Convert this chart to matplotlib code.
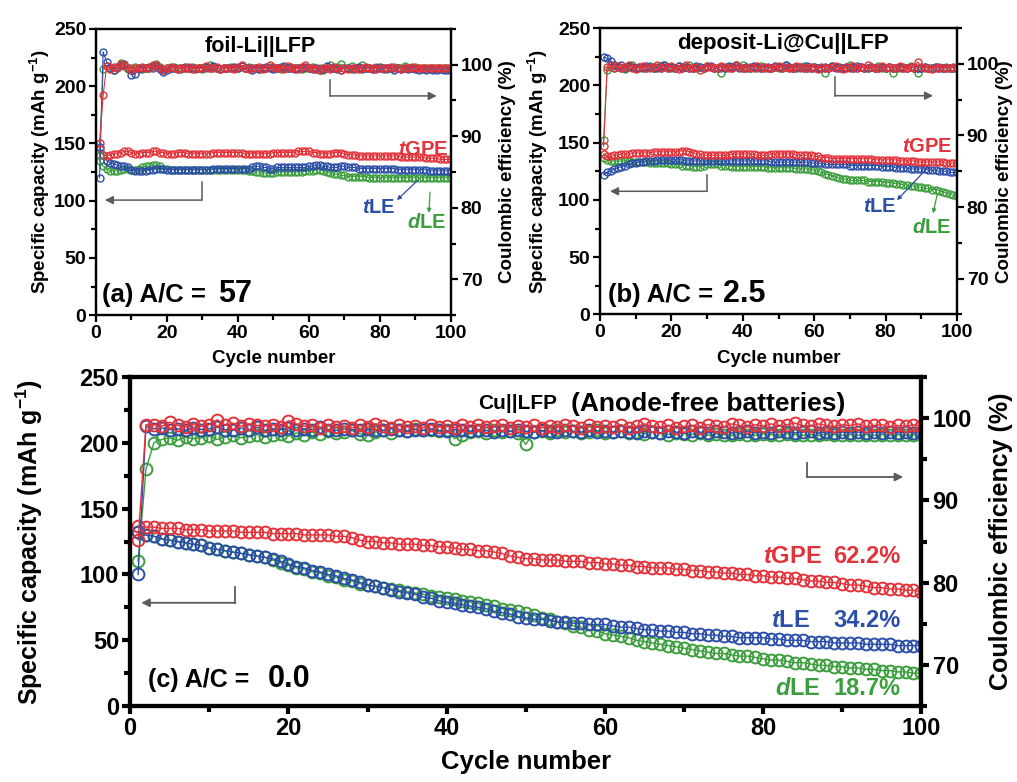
import numpy as np
import matplotlib
matplotlib.use('Agg')
import matplotlib.pyplot as plt
from matplotlib.ticker import MultipleLocator

plt.rcParams['font.family'] = ['Liberation Sans', 'DejaVu Sans']
plt.rcParams['font.weight'] = 'bold'
plt.rcParams['axes.labelweight'] = 'bold'
plt.rcParams['mathtext.fontset'] = 'custom'
plt.rcParams['mathtext.rm'] = 'Liberation Sans:bold'
plt.rcParams['mathtext.it'] = 'Liberation Sans:italic:bold'
plt.rcParams['mathtext.bf'] = 'Liberation Sans:bold'
plt.rcParams['mathtext.default'] = 'regular'

RED = '#e4323a'
BLUE = '#2b4ea8'
GREEN = '#3b9e3c'
GRAY = '#5a5a5a'

cycles = np.arange(1, 101)

# ---- (a) foil-Li||LFP : specific capacity (mAh/g)
cap_tgpe_a = [145,140,139,140,141,141,142,143,143,142,
              141,141,142,142,142,143,143,142,142,141,
              141,141,142,142,142,141,141,141,141,141,
              141,141,142,142,142,142,142,142,142,142,
              142,141,141,141,141,141,141,141,141,142,
              142,142,142,142,142,142,143,143,143,143,
              142,142,141,141,141,141,142,142,142,141,
              140,140,140,139,139,139,139,139,139,139,
              139,139,139,139,139,138,138,138,138,138,
              138,138,137,137,137,137,136,136,136,136]
cap_tle_a = [147,140,135,133,132,131,130,130,129,127,
             126,126,126,126,127,127,128,128,128,127,
             127,127,127,127,127,127,127,127,127,127,
             127,127,128,128,128,128,128,128,128,128,
             128,128,128,129,130,130,129,129,128,128,
             129,129,129,129,129,129,129,129,129,130,
             130,131,131,130,130,129,129,129,130,130,
             129,129,129,128,128,128,128,128,128,128,
             128,128,128,128,127,127,127,127,127,127,
             127,127,127,126,126,126,126,126,126,126]
cap_dle_a = [135,130,128,126,126,126,127,128,128,127,
             127,128,129,130,130,131,131,130,128,128,
             127,127,127,127,127,127,127,127,127,127,
             127,127,127,127,127,127,127,127,127,127,
             127,127,126,126,125,125,124,124,124,124,
             125,125,125,125,125,125,125,125,126,126,
             126,127,127,126,125,124,123,123,122,122,
             121,121,121,121,121,121,120,120,120,120,
             120,120,120,120,120,120,120,120,120,120,
             120,120,120,120,120,120,120,120,120,120]
# (a) coulombic efficiency (%)
ce_tgpe_a = [89.0,95.7,99.8,99.4,99.7,99.5,100.1,99.9,99.6,99.3,
             99.6,99.5,99.7,99.5,99.6,99.9,100.0,99.6,99.2,99.5,
             99.7,99.5,99.4,99.6,99.5,99.7,99.4,99.5,99.6,99.5,
             99.8,99.6,99.5,99.7,99.4,99.6,99.5,99.6,99.4,99.7,
             99.9,99.6,99.4,99.6,99.5,99.7,99.4,99.6,99.9,99.7,
             99.5,99.6,99.4,99.8,99.5,99.6,99.4,99.7,99.9,99.5,
             99.6,99.4,99.3,99.5,99.6,99.4,99.7,99.5,99.3,99.6,
             99.4,99.5,99.6,99.4,99.5,99.7,99.5,99.6,99.4,99.5,
             99.6,99.5,99.7,99.5,99.6,99.4,99.6,99.5,99.7,99.6,
             99.5,99.6,99.5,99.6,99.5,99.6,99.5,99.6,99.5,99.6]
ce_tle_a = [84.2,101.8,100.4,99.6,99.3,99.7,99.9,100.1,99.5,98.6,
            98.7,99.4,99.6,99.5,99.7,99.6,99.8,99.4,99.0,99.2,
            99.5,99.6,99.4,99.5,99.7,99.5,99.6,99.4,99.5,99.6,
            99.7,99.5,99.8,99.6,99.4,99.5,99.6,99.5,99.7,99.6,
            99.8,99.6,99.5,99.3,99.6,99.4,99.5,99.7,99.6,99.4,
            99.5,99.7,99.8,99.5,99.6,99.4,99.6,99.5,99.7,99.6,
            99.4,99.5,99.2,99.4,99.8,99.5,99.6,99.4,99.3,99.5,
            99.6,99.4,99.5,99.7,99.4,99.5,99.6,99.4,99.5,99.7,
            99.4,99.5,99.6,99.3,99.5,99.4,99.6,99.4,99.5,99.4,
            99.3,99.4,99.3,99.4,99.3,99.3,99.4,99.3,99.3,99.3]
ce_dle_a = [87.4,99.4,99.8,99.5,99.3,99.6,100.3,99.8,99.4,99.5,
            99.7,99.6,99.4,99.6,99.5,99.8,100.1,99.7,99.3,99.6,
            99.5,99.7,99.5,99.4,99.6,99.5,99.7,99.5,99.6,99.4,
            99.6,99.9,99.7,99.5,99.4,99.6,99.5,99.7,99.5,99.6,
            99.8,99.5,99.7,99.5,99.6,99.4,99.6,99.5,99.7,99.5,
            99.6,99.4,99.6,99.5,99.7,99.5,99.6,99.4,99.6,99.5,
            99.7,99.4,99.5,99.3,99.6,99.9,99.5,99.7,100.1,99.6,
            99.5,99.8,99.4,99.6,99.9,99.5,99.6,99.4,99.7,99.5,
            99.6,99.4,99.5,99.7,99.5,99.6,99.8,99.5,99.6,99.7,
            99.5,99.6,99.5,99.6,99.5,99.6,99.5,99.6,99.5,99.5]

# ---- (b) deposit-Li@Cu||LFP
cap_tgpe_b = [140,138,138,139,139,140,140,140,141,141,
              141,141,141,141,142,142,142,142,142,142,
              142,142,143,143,142,141,140,140,139,139,
              139,139,139,139,139,139,140,140,140,140,
              140,140,140,139,139,139,139,140,140,140,
              140,140,140,140,139,139,139,139,139,138,
              138,137,137,137,136,136,136,136,136,136,
              136,136,136,136,136,136,135,135,135,135,
              135,135,135,134,134,134,134,134,133,133,
              133,133,133,133,133,133,132,132,132,132]
cap_tle_b = [122,124,125,127,128,129,130,131,132,132,
             133,133,134,134,134,135,135,135,135,135,
             135,135,135,134,134,134,134,134,134,134,
             134,134,134,134,134,134,134,134,134,134,
             134,134,134,134,134,134,134,133,133,133,
             133,133,133,133,133,133,133,133,132,132,
             132,132,131,131,131,131,131,131,131,130,
             130,130,130,130,130,130,130,130,129,129,
             129,129,128,128,128,128,127,127,127,127,
             127,126,126,126,125,125,125,124,124,124]
cap_dle_b = [137,135,134,134,134,134,134,134,133,133,
             133,133,133,132,132,132,132,132,132,131,
             131,131,130,130,130,129,129,129,130,131,
             131,131,131,130,130,130,129,129,129,129,
             129,129,129,129,129,129,128,128,128,128,
             128,128,128,128,127,127,127,127,126,126,
             125,124,123,122,121,120,119,118,118,117,
             117,117,117,117,116,116,116,116,116,115,
             115,115,114,114,113,113,112,112,111,111,
             110,110,109,109,108,107,106,105,104,103]
ce_tgpe_b = [88.5,99.6,99.8,99.5,99.7,99.4,99.6,99.9,99.5,99.3,
             99.6,99.7,99.5,99.4,99.6,99.8,99.5,99.6,99.4,99.7,
             99.5,99.3,99.6,99.8,99.5,99.4,99.6,99.2,99.5,99.7,
             99.6,99.4,99.5,99.7,99.6,99.4,99.5,99.8,99.6,99.5,
             99.4,99.6,99.5,99.7,99.4,99.6,99.5,99.4,99.6,99.7,
             99.5,99.6,99.4,99.5,99.7,99.6,99.5,99.4,99.6,99.5,
             99.3,99.6,99.5,99.4,99.6,99.7,99.5,99.3,99.6,99.5,
             99.7,99.4,99.6,99.5,99.8,99.6,99.4,99.5,99.7,99.5,
             99.6,99.4,99.5,99.7,99.5,99.4,99.6,99.5,100.3,99.6,
             99.4,99.5,99.3,99.5,99.6,99.4,99.5,99.5,99.6,99.5]
ce_tle_b = [100.9,100.8,100.4,99.8,99.6,99.9,99.5,99.7,99.6,99.4,
            99.6,99.5,99.7,99.6,99.4,99.5,99.7,99.8,99.5,99.6,
            99.4,99.7,99.5,99.6,99.4,99.5,99.7,99.6,99.5,99.6,
            99.7,99.5,99.4,99.6,99.5,99.7,99.6,99.9,99.5,99.4,
            99.6,99.5,99.7,99.6,99.4,99.5,99.6,99.5,99.7,99.6,
            99.5,99.8,99.6,99.4,99.5,99.6,99.5,99.7,99.5,99.6,
            99.4,99.5,99.6,99.4,99.7,99.5,99.6,99.5,99.4,99.6,
            99.5,99.7,99.6,99.4,99.5,99.6,99.5,99.4,99.6,99.5,
            99.6,99.4,99.5,99.6,99.5,99.4,99.6,99.5,99.4,99.5,
            99.6,99.4,99.5,99.6,99.4,99.5,99.4,99.5,99.5,99.4]
ce_dle_b = [89.3,99.2,99.6,99.4,99.7,99.5,99.3,99.6,99.8,99.5,
            99.4,99.6,99.5,99.7,99.4,99.6,99.5,99.8,99.6,99.4,
            99.5,99.7,99.4,99.6,99.8,99.5,99.4,99.6,99.5,99.7,
            99.6,99.4,99.5,98.8,99.4,99.6,99.5,99.7,99.6,99.9,
            99.5,99.4,99.6,99.5,99.7,99.6,99.4,99.5,99.6,99.4,
            99.6,99.8,99.5,99.4,99.6,99.5,99.7,99.5,99.4,99.6,
            99.5,99.4,98.8,99.5,99.7,99.6,99.4,99.5,99.6,99.8,
            99.5,99.4,99.6,99.5,99.4,99.6,99.5,99.7,99.4,99.5,
            99.6,98.8,99.5,99.4,99.6,99.5,99.7,99.4,98.7,99.5,
            99.6,99.4,99.5,99.6,99.4,99.5,99.6,99.4,99.5,99.5]

# ---- (c) Cu||LFP anode-free
cap_tgpe_c = [137,136,136,135,135,135,134,134,134,133,
              133,133,133,132,132,132,132,131,131,131,
              131,130,130,130,130,129,129,128,126,125,
              125,124,124,123,123,123,122,122,121,121,
              120,119,119,118,118,117,116,114,113,112,
              112,111,111,111,110,110,110,109,109,108,
              108,107,107,106,106,105,105,105,104,104,
              103,103,102,102,101,101,100,100,99,99,
              98,98,97,97,96,95,95,94,94,93,
              92,92,91,90,90,89,89,88,88,87]
cap_tle_c = [132,130,129,127,126,125,124,123,122,120,
             119,118,117,116,115,114,113,112,110,108,
             106,105,103,102,100,99,97,96,94,92,
             91,90,88,87,86,85,83,82,80,79,
             78,77,76,75,74,72,71,70,68,67,
             66,66,65,64,64,63,63,62,62,62,
             61,60,60,59,58,58,57,57,56,56,
             55,55,54,54,53,53,52,52,52,52,
             51,51,50,50,50,49,49,49,48,48,
             48,48,47,47,47,47,46,46,46,46]
cap_dle_c = [132,130,129,127,126,125,124,123,122,120,
             119,118,117,116,115,114,113,111,109,107,
             105,104,102,101,99,98,96,95,93,92,
             91,90,89,88,87,86,85,84,83,82,
             81,80,79,78,77,76,74,73,72,71,
             69,67,66,64,63,61,60,58,57,55,
             54,53,52,50,49,48,47,46,45,44,
             43,42,41,40,40,39,38,38,37,36,
             35,35,34,33,33,32,31,31,30,30,
             29,29,28,28,27,27,26,26,25,25]
ce_tgpe_c = [85.2,99.2,99.2,99.0,99.5,99.1,98.9,99.3,99.0,99.2,
             99.8,99.1,99.4,99.0,99.3,99.1,99.0,99.2,98.9,99.7,
             99.3,99.0,99.1,98.8,99.2,98.9,99.0,98.8,99.1,98.9,
             99.3,99.0,98.8,99.1,98.9,99.0,98.8,99.2,98.9,99.0,
             98.8,99.1,98.9,99.2,98.9,99.0,99.2,98.8,99.0,98.9,
             99.1,98.8,99.0,98.9,99.2,99.0,98.8,99.1,98.9,99.0,
             98.9,99.2,98.8,99.0,99.3,99.0,98.9,99.1,98.8,99.0,
             99.1,98.8,99.2,99.0,98.9,99.3,99.1,98.9,99.2,99.0,
             99.3,99.0,99.2,99.4,99.1,99.0,99.3,99.1,99.0,99.2,
             99.1,99.3,99.0,99.1,99.2,98.9,99.1,99.0,99.2,99.0]
ce_tle_c = [81.0,99.0,98.7,98.8,98.6,98.7,98.5,98.8,98.6,98.7,
            98.9,98.6,98.5,98.8,98.6,98.9,98.5,98.7,98.6,98.8,
            98.5,98.7,98.6,98.9,98.6,98.5,98.7,98.6,98.5,98.7,
            98.6,98.5,98.7,98.6,98.4,98.6,98.5,98.7,98.5,98.4,
            98.6,98.5,98.4,98.6,98.5,98.3,98.5,98.4,98.6,98.4,
            98.3,98.5,98.4,98.3,98.5,98.4,98.3,98.5,98.3,98.4,
            98.3,98.4,98.3,98.2,98.4,98.3,98.2,98.4,98.3,98.2,
            98.4,98.3,98.2,98.4,98.3,98.2,98.3,98.4,98.2,98.3,
            98.2,98.4,98.3,98.2,98.3,98.4,98.2,98.3,98.2,98.3,
            98.2,98.3,98.2,98.3,98.2,98.3,98.2,98.3,98.2,98.3]
ce_dle_c = [82.6,93.8,97.0,97.4,97.6,97.3,97.7,97.5,97.6,97.8,
            97.4,97.7,97.9,97.6,97.8,98.0,97.7,97.9,98.1,97.8,
            98.2,98.0,98.3,98.1,98.4,98.2,98.3,98.5,98.1,97.9,
            98.3,98.5,98.2,98.6,98.4,98.7,98.5,98.6,98.4,98.5,
            97.5,97.9,98.3,98.4,98.2,98.5,98.3,98.4,98.2,96.8,
            98.3,98.4,98.2,98.5,98.3,98.4,98.2,98.3,98.5,98.2,
            98.3,98.4,98.2,98.3,98.1,98.3,98.2,98.0,98.2,98.1,
            98.0,98.2,97.9,98.1,98.0,97.9,98.1,98.0,97.9,98.1,
            98.0,97.9,98.1,98.0,97.9,98.0,97.9,98.1,98.0,97.9,
            98.0,97.9,98.0,97.9,98.0,97.9,98.0,97.9,98.0,97.9]


def draw_panel(ax, caps, ces, ms, mew, lw, spw, tfs, lfs, tlen):
    ax2 = ax.twinx()
    colors = [GREEN, BLUE, RED]
    for y, col in zip(caps, colors):
        ax.plot(cycles, y, '-o', color=col, mfc='none', ms=ms, mew=mew, lw=lw)
    for y, col in zip(ces, colors):
        ax2.plot(cycles, y, '-o', color=col, mfc='none', ms=ms, mew=mew, lw=lw)
    ax.set_xlim(0, 100)
    ax.set_ylim(0, 250)
    ax2.set_ylim(65, 105)
    ax.xaxis.set_major_locator(MultipleLocator(20))
    ax.xaxis.set_minor_locator(MultipleLocator(10))
    ax.yaxis.set_major_locator(MultipleLocator(50))
    ax.yaxis.set_minor_locator(MultipleLocator(25))
    ax2.yaxis.set_major_locator(MultipleLocator(10))
    ax2.yaxis.set_minor_locator(MultipleLocator(5))
    for a in (ax, ax2):
        for s in a.spines.values():
            s.set_linewidth(spw)
        a.tick_params(which='major', direction='out', length=tlen, width=spw,
                      labelsize=tfs, pad=2)
        a.tick_params(which='minor', direction='out', length=tlen * 0.7, width=spw)
    ax.set_xlabel('Cycle number', fontsize=lfs)
    ax.set_ylabel('Specific capacity (mAh g$^{-1}$)', fontsize=lfs)
    ax2.set_ylabel('Coulombic efficiency (%)', fontsize=lfs)
    return ax2


def gray_arrow(ax, x0, y0, y1, x1, lw):
    ax.plot([x0, x0], [y0, y1], color=GRAY, lw=lw)
    ax.annotate('', xy=(x1, y1), xytext=(x0, y1),
                arrowprops=dict(arrowstyle='-|>', color=GRAY, lw=lw,
                                mutation_scale=12, shrinkA=0, shrinkB=0))


def pointer(ax, tail, head, col):
    ax.annotate('', xy=head, xytext=tail, xycoords='axes fraction',
                arrowprops=dict(arrowstyle='-|>', color=col, lw=0.9,
                                mutation_scale=6, shrinkA=0, shrinkB=0))


fig = plt.figure(figsize=(10.17, 7.82), dpi=100)
ax_a = fig.add_axes([0.0944, 0.597, 0.349, 0.366])
ax_b = fig.add_axes([0.590, 0.598, 0.351, 0.366])
ax_c = fig.add_axes([0.128, 0.097, 0.778, 0.421])

# panel (a)
a2 = draw_panel(ax_a, [cap_dle_a, cap_tle_a, cap_tgpe_a], [ce_dle_a, ce_tle_a, ce_tgpe_a],
                ms=5, mew=1.0, lw=0.8, spw=1.6, tfs=14, lfs=13.5, tlen=5)
ax_a.yaxis.set_label_coords(-0.124, 0.5)
a2.yaxis.set_label_coords(1.135, 0.5)
ax_a.xaxis.set_label_coords(0.5, -0.122)
ax_a.text(0.462, 0.937, 'foil-Li||LFP', transform=ax_a.transAxes, ha='center',
          va='center', fontsize=15.5)
ax_a.text(0.017, 0.045, '(a) A/C =', transform=ax_a.transAxes, fontsize=18.5,
          va='baseline')
ax_a.text(0.344, 0.045, '57', transform=ax_a.transAxes, fontsize=22, va='baseline')
ax_a.text(0.851, 0.559, r'$\mathit{t}$GPE', transform=ax_a.transAxes, color=RED,
          fontsize=14.5, va='baseline')
ax_a.text(0.749, 0.357, r'$\mathit{t}$LE', transform=ax_a.transAxes, color=BLUE,
          fontsize=14.5, va='baseline')
ax_a.text(0.876, 0.304, r'$\mathit{d}$LE', transform=ax_a.transAxes, color=GREEN,
          fontsize=14.5, va='baseline')
pointer(ax_a, (0.907, 0.472), (0.848, 0.402), BLUE)
pointer(ax_a, (0.941, 0.430), (0.938, 0.357), GREEN)
gray_arrow(ax_a, 29.8, 116, 100.5, 2.5, 1.1)
gray_arrow(ax_a, 66, 205, 191.5, 96, 1.1)

# panel (b)
b2 = draw_panel(ax_b, [cap_dle_b, cap_tle_b, cap_tgpe_b], [ce_dle_b, ce_tle_b, ce_tgpe_b],
                ms=5, mew=1.0, lw=0.8, spw=1.6, tfs=14, lfs=13.5, tlen=5)
ax_b.yaxis.set_label_coords(-0.140, 0.5)
b2.yaxis.set_label_coords(1.108, 0.5)
ax_b.xaxis.set_label_coords(0.5, -0.126)
ax_b.text(0.513, 0.948, 'deposit-Li@Cu||LFP', transform=ax_b.transAxes, ha='center',
          va='center', fontsize=16)
ax_b.text(0.022, 0.042, '(b) A/C =', transform=ax_b.transAxes, fontsize=18.5,
          va='baseline')
ax_b.text(0.345, 0.042, '2.5', transform=ax_b.transAxes, fontsize=22, va='baseline')
ax_b.text(0.846, 0.566, r'$\mathit{t}$GPE', transform=ax_b.transAxes, color=RED,
          fontsize=14.5, va='baseline')
ax_b.text(0.737, 0.357, r'$\mathit{t}$LE', transform=ax_b.transAxes, color=BLUE,
          fontsize=14.5, va='baseline')
ax_b.text(0.874, 0.283, r'$\mathit{d}$LE', transform=ax_b.transAxes, color=GREEN,
          fontsize=14.5, va='baseline')
pointer(ax_b, (0.919, 0.514), (0.832, 0.399), BLUE)
pointer(ax_b, (0.944, 0.416), (0.933, 0.353), GREEN)
gray_arrow(ax_b, 30, 121.5, 107.5, 2.8, 1.1)
gray_arrow(ax_b, 65.8, 207, 191, 93.3, 1.1)

# panel (c)
c2 = draw_panel(ax_c, [cap_dle_c, cap_tle_c, cap_tgpe_c], [ce_dle_c, ce_tle_c, ce_tgpe_c],
                ms=8.5, mew=1.4, lw=1.0, spw=3.0, tfs=17, lfs=18, tlen=6)
ax_c.yaxis.set_label_coords(-0.108, 0.5)
c2.yaxis.set_label_coords(1.086, 0.5)
ax_c.xaxis.set_label_coords(0.5, -0.132)
ax_c.xaxis.label.set_fontsize(18.5)
ax_c.text(0.44, 0.918, 'Cu||LFP', transform=ax_c.transAxes, fontsize=15, va='center')
ax_c.text(0.557, 0.918, '(Anode-free batteries)', transform=ax_c.transAxes,
          fontsize=19, va='center')
ax_c.text(0.023, 0.058, '(c) A/C =', transform=ax_c.transAxes, fontsize=18,
          va='baseline')
ax_c.text(0.174, 0.058, '0.0', transform=ax_c.transAxes, fontsize=22, va='baseline')
for name, pct, col, xn, yb in [(r'$\mathit{t}$GPE', '62.2%', RED, 0.800, 0.436),
                               (r'$\mathit{t}$LE', '34.2%', BLUE, 0.810, 0.241),
                               (r'$\mathit{d}$LE', '18.7%', GREEN, 0.815, 0.035)]:
    ax_c.text(xn, yb, name, transform=ax_c.transAxes, color=col, fontsize=17,
              va='baseline')
    ax_c.text(0.974, yb, pct, transform=ax_c.transAxes, color=col, fontsize=17,
              va='baseline', ha='right')
gray_arrow(ax_c, 13.3, 90.7, 78.5, 1.4, 1.3)
gray_arrow(ax_c, 85.6, 185, 174, 97.7, 1.3)

fig.savefig('out.png', dpi=100)
